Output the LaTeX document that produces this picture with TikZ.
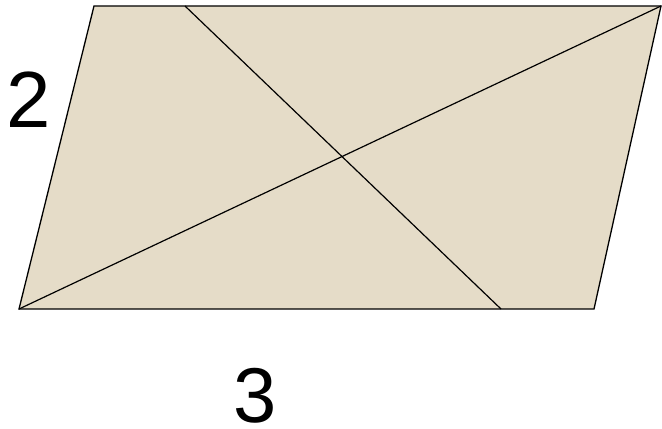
\documentclass[tikz,border=0pt]{standalone}
\usepackage{fontspec}
\setmainfont{Liberation Sans}
\definecolor{sand}{HTML}{E5DCC8}
\begin{document}
\begin{tikzpicture}[x=1bp,y=1bp]
\path[use as bounding box] (0,0) rectangle (662,428);
\coordinate (bl) at (19,119);\coordinate (br) at (594,119);
\coordinate (tr) at (661,422);\coordinate (tl) at (94,422);
\coordinate (ct) at (185,422);\coordinate (cb) at (501,119);
\filldraw[fill=sand,draw=black,line width=1.3bp,line join=miter] (bl)--(br)--(tr)--(tl)--cycle;
\draw[black,line width=1.2bp] (bl)--(tr);
\draw[black,line width=1.2bp] (ct)--(cb);
\node[inner sep=0pt,text depth=0pt,anchor=base,font=\fontsize{80}{88}\selectfont] (side) at (29,301) {2};
\node[inner sep=0pt,text depth=0pt,anchor=base,font=\fontsize{78}{86}\selectfont] (base) at (255,6) {3};
\end{tikzpicture}
\end{document}
